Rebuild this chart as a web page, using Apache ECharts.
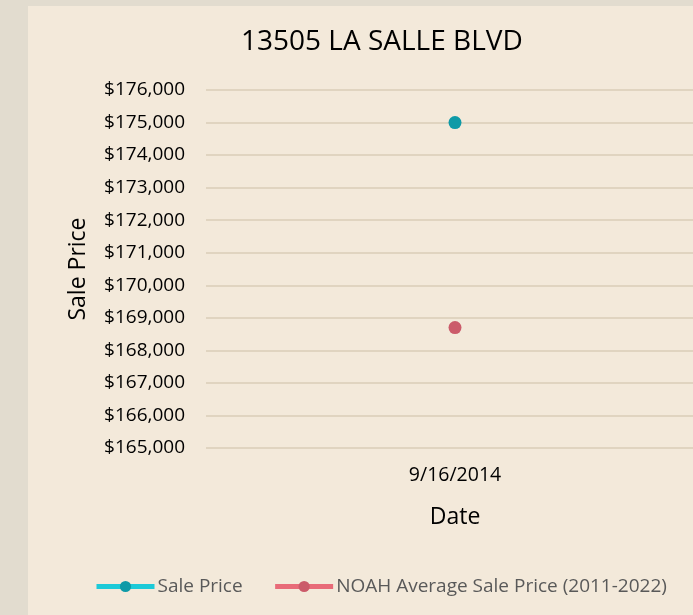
<!DOCTYPE html>
<html>
<head>
<meta charset="utf-8">
<script src="https://cdn.jsdelivr.net/npm/echarts@6/dist/echarts.min.js"></script>
<style>
  html, body { margin: 0; padding: 0; background: #e2dccf; overflow: hidden; width: 693px; height: 615px; }
  /* plot runs a bit past the right edge in the original */
  #chart { position: absolute; left: 28px; top: 6px; width: 676px; height: 609px; background: #f3e9da; }
</style>
</head>
<body>
<div id="chart"></div>
<script>
// data
const dates = ['9/16/2014']
const salePrice = [175000]
const noahAvg = [168700]
const yMin = 165000
const yMax = 176000
const yStep = 1000

const FONT = '"Open Sans", sans-serif'
const chart = echarts.init(document.getElementById('chart'))

const fmt = v => '$' + v.toLocaleString('en-US')

chart.setOption({
  animation: false,
  title: {
    text: '13505 LA SALLE BLVD',
    left: 208,
    top: 17,
    textStyle: { fontFamily: FONT, fontSize: 28, fontWeight: 'normal', color: '#000' }
  },
  grid: { left: 178, right: 0, top: 84, bottom: 167 },
  legend: {
    left: 61,
    top: 566,
    itemWidth: 58,
    itemHeight: 14,
    itemGap: 30,
    lineStyle: { width: 5 },
    textStyle: { fontFamily: FONT, fontSize: 19, color: '#595959', padding: [0, 0, 0, -2] },
    data: ['Sale Price', 'NOAH Average Sale Price (2011-2022)']
  },
  xAxis: {
    type: 'category',
    data: dates,
    name: 'Date',
    nameLocation: 'middle',
    nameGap: 58,
    nameTextStyle: { fontFamily: FONT, fontSize: 23, color: '#000' },
    axisLine: { show: false },
    axisTick: { show: false },
    axisLabel: { fontFamily: FONT, fontSize: 19.5, color: '#000', margin: 17 }
  },
  yAxis: {
    type: 'value',
    min: yMin,
    max: yMax,
    interval: yStep,
    name: 'Sale Price',
    nameLocation: 'middle',
    nameGap: 116,
    nameTextStyle: { fontFamily: FONT, fontSize: 23, color: '#000' },
    axisLine: { show: false },
    axisTick: { show: false },
    axisLabel: { fontFamily: FONT, fontSize: 19, color: '#000', margin: 21, formatter: fmt },
    splitLine: { lineStyle: { color: '#dacdb7', width: 1.5 } }
  },
  series: [
    {
      name: 'Sale Price',
      type: 'line',
      data: salePrice,
      symbol: 'circle',
      symbolSize: 13,
      itemStyle: { color: '#0e9aa7' },
      lineStyle: { color: '#1ccad8', width: 5 }
    },
    {
      name: 'NOAH Average Sale Price (2011-2022)',
      type: 'line',
      data: noahAvg,
      symbol: 'circle',
      symbolSize: 13,
      itemStyle: { color: '#cb5b6a' },
      lineStyle: { color: '#e86b78', width: 5 }
    }
  ]
})
</script>
</body>
</html>
